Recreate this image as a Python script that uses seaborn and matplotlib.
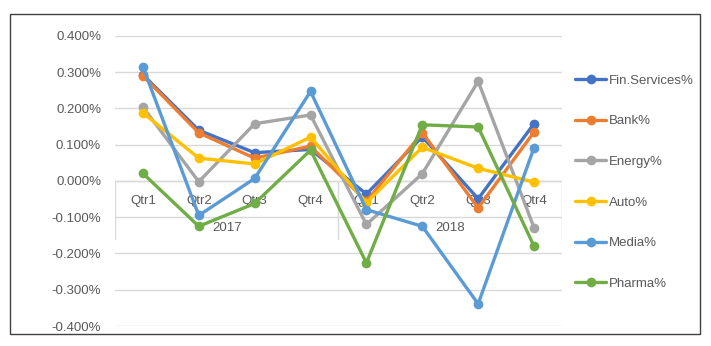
import pandas as pd
import matplotlib.pyplot as plt
import seaborn as sns
from matplotlib.patches import Rectangle

# Datos (en %)
years = ['2017', '2018']
quarters = ['Qtr1', 'Qtr2', 'Qtr3', 'Qtr4']
series_names = ['Fin.Services%', 'Bank%', 'Energy%', 'Auto%', 'Media%', 'Pharma%']
fin_services = [0.293, 0.140, 0.078, 0.087, -0.036, 0.122, -0.049, 0.158]
bank = [0.290, 0.133, 0.063, 0.096, -0.056, 0.133, -0.074, 0.135]
energy = [0.204, -0.002, 0.158, 0.182, -0.120, 0.020, 0.275, -0.129]
auto = [0.188, 0.063, 0.047, 0.121, -0.060, 0.093, 0.035, -0.003]
media = [0.315, -0.095, 0.007, 0.247, -0.079, -0.125, -0.339, 0.092]
pharma = [0.021, -0.125, -0.062, 0.085, -0.226, 0.155, 0.149, -0.180]
colors = ['#4472C4', '#ED7D31', '#A5A5A5', '#FFC000', '#5B9BD5', '#70AD47']

values = [fin_services, bank, energy, auto, media, pharma]
n = len(years) * len(quarters)
df = pd.DataFrame({
    'pos': list(range(n)) * len(series_names),
    'valor': [v for s in values for v in s],
    'serie': [name for name in series_names for _ in range(n)],
})

sns.set_style('white')
plt.rcParams['font.family'] = ['Liberation Sans', 'DejaVu Sans']

fig = plt.figure(figsize=(7.11, 3.46), dpi=100)
ax = fig.add_axes([0.1617, 0.0578, 0.6287, 0.8382])

sns.lineplot(data=df, x='pos', y='valor', hue='serie', hue_order=series_names,
             palette=colors, marker='o', markersize=7, markeredgewidth=0,
             linewidth=2.4, sort=False, ax=ax, zorder=3)

ax.set_xlim(-0.5, n - 0.5)
ax.set_ylim(-0.4, 0.4)
ticks = [i / 10 for i in range(-4, 5)]
ax.set_yticks(ticks)
ax.set_yticklabels([f'{t:.3f}%' for t in ticks], color='#595959', fontsize=9.5)
ax.tick_params(axis='y', length=0, pad=10)
ax.set_xticks([])
ax.set_xlabel('')
ax.set_ylabel('')
for t in ticks:
    ax.axhline(t, color='#D9D9D9', linewidth=1, zorder=0)
for s in ax.spines.values():
    s.set_visible(False)

# eje de categorias de dos niveles
ax.axhline(0, color='#D9D9D9', linewidth=1, zorder=1)
for xb in [-0.5, 3.5, n - 0.5]:
    ax.plot([xb, xb], [0, -0.159], color='#D9D9D9', linewidth=1, zorder=1)
for i in range(n):
    ax.text(i, -0.054, quarters[i % 4], ha='center', va='center',
            color='#595959', fontsize=9.5, zorder=2)
for j, y in enumerate(years):
    ax.text(j * 4 + 1.5, -0.131, y, ha='center', va='center',
            color='#595959', fontsize=9.5, zorder=2)

handles, labels = ax.get_legend_handles_labels()
ax.legend(handles, labels, loc='upper left', bbox_to_anchor=(0.802, 0.8),
          bbox_transform=fig.transFigure, frameon=False, fontsize=9.5,
          labelcolor='#595959', handlelength=2.3, handletextpad=0.2,
          labelspacing=2.15, borderaxespad=0)

fig.patches.append(Rectangle((10 / 711, 12 / 346), 690 / 711, 320 / 346,
                             transform=fig.transFigure, fill=False,
                             edgecolor='#404040', linewidth=1))

fig.savefig('out.png', dpi=100)
